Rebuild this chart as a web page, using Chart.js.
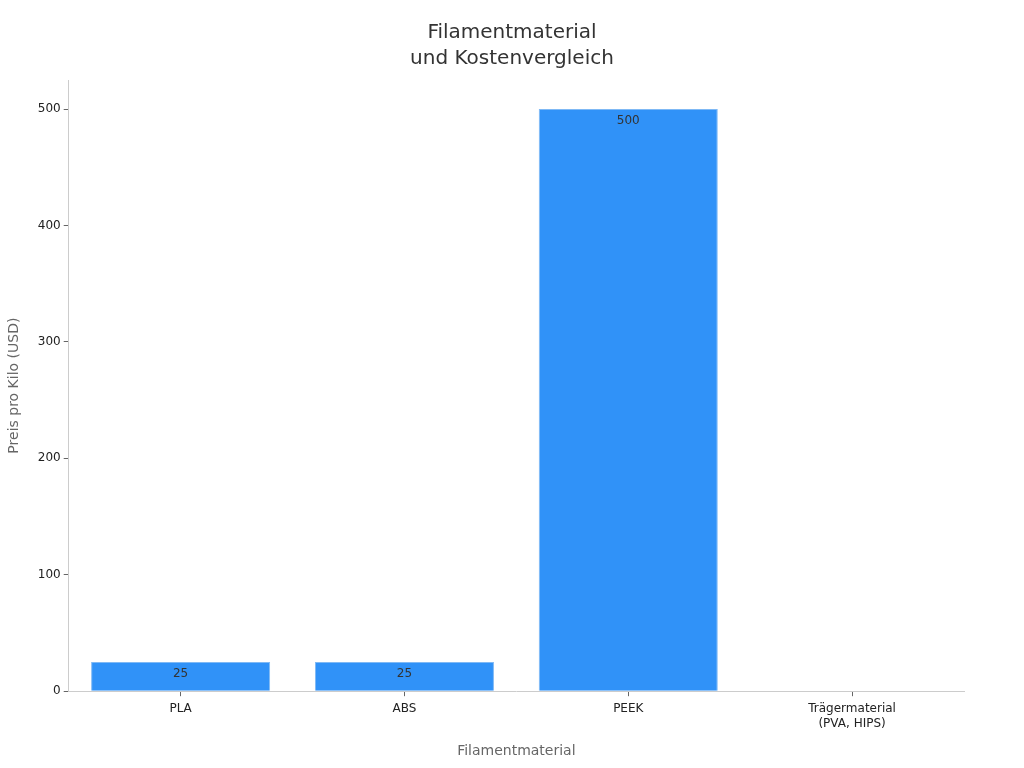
<!DOCTYPE html>
<html>
<head>
<meta charset="utf-8">
<script src="https://cdn.jsdelivr.net/npm/chart.js@4/dist/chart.umd.min.js"></script>
<style>
  html, body { margin: 0; padding: 0; background: #fff; }
  #wrap { width: 1024px; height: 768px; }
</style>
</head>
<body>
<div id="wrap"><canvas id="chart" width="1024" height="768"></canvas></div>
<script>
const chartTitle = ["Filamentmaterial", "und Kostenvergleich"];
const categories = ["PLA", "ABS", "PEEK", ["Trägermaterial", "(PVA, HIPS)"]];
const prices = [25, 25, 500, null];
const yTicks = [0, 100, 200, 300, 400, 500];

// value just under the top of each bar
const barLabels = {
    id: "barLabels",
    afterDatasetsDraw(chart) {
        const ctx = chart.ctx;
        const meta = chart.getDatasetMeta(0);
        ctx.save();
        ctx.font = "12px 'DejaVu Sans'";
        ctx.fillStyle = "#333333";
        ctx.textAlign = "center";
        ctx.textBaseline = "top";
        meta.data.forEach((bar, i) => {
            const v = prices[i];
            if (v == null) return;
            ctx.fillText(String(v), bar.x, bar.y + 6);
        });
        ctx.restore();
    }
};

// title centred on the whole page, not the plot area
const pageTitle = {
    id: "pageTitle",
    afterDraw(chart) {
        const ctx = chart.ctx;
        ctx.save();
        ctx.font = "20px 'DejaVu Sans'";
        ctx.fillStyle = "#333333";
        ctx.textAlign = "center";
        ctx.textBaseline = "middle";
        chartTitle.forEach((line, i) => ctx.fillText(line, chart.width / 2, 33 + i * 26));
        ctx.restore();
    }
};

Chart.defaults.font.family = "'DejaVu Sans', sans-serif";

new Chart(document.getElementById("chart"), {
    type: "bar",
    data: {
        labels: categories,
        datasets: [{
            data: prices,
            backgroundColor: "#3092f8",
            borderColor: "#7fb9f5",
            borderWidth: 1,
            barPercentage: 0.8,
            categoryPercentage: 1.0
        }]
    },
    options: {
        responsive: false,
        animation: false,
        layout: { padding: { left: 2, right: 60, top: 80, bottom: 8 } },
        plugins: {
            legend: { display: false },
            tooltip: { enabled: false },
            title: { display: false }
        },
        scales: {
            x: {
                grid: { display: true, offset: false, drawOnChartArea: false, drawTicks: true, tickLength: 5, tickColor: "#666" },
                border: { color: "#cccccc" },
                ticks: { color: "#222", font: { size: 12, lineHeight: 1.25 }, padding: 5 },
                title: {
                    display: true,
                    text: "Filamentmaterial",
                    color: "#666666",
                    font: { size: 14 },
                    padding: { top: 7, bottom: 0 }
                }
            },
            y: {
                min: 0,
                max: 525,
                afterBuildTicks(axis) {
                    axis.ticks = yTicks.map(v => ({ value: v }));
                },
                grid: { display: true, drawOnChartArea: false, drawTicks: true, tickLength: 5, tickColor: "#666" },
                border: { color: "#cccccc" },
                ticks: { color: "#222", font: { size: 12 }, padding: 3 },
                title: {
                    display: true,
                    text: "Preis pro Kilo (USD)",
                    color: "#666666",
                    font: { size: 14 },
                    padding: { bottom: 12 }
                }
            }
        }
    },
    plugins: [barLabels, pageTitle]
});
</script>
</body>
</html>
